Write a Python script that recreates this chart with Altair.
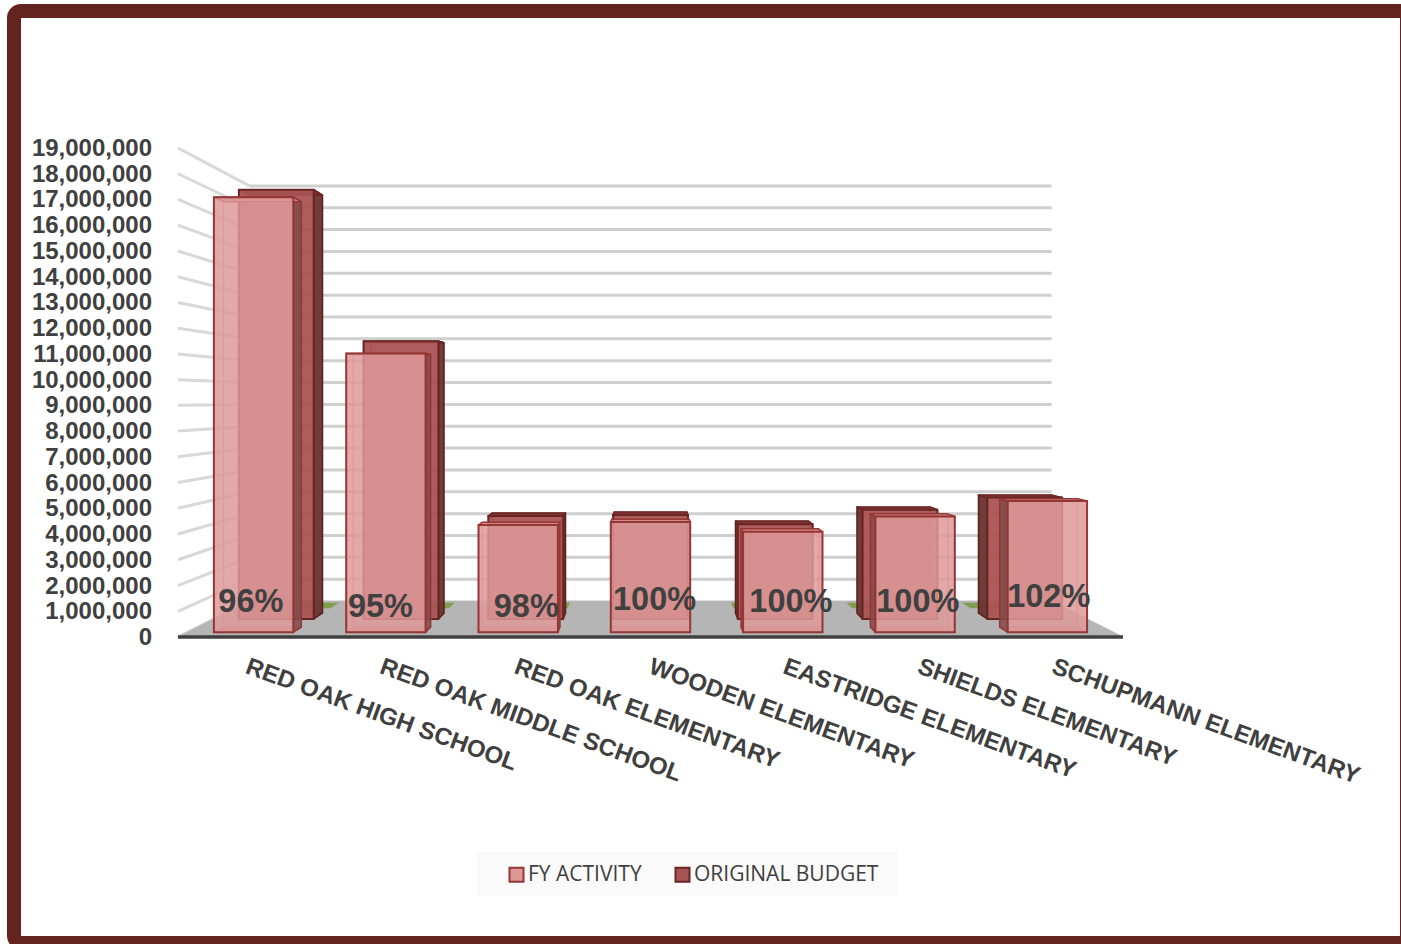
import altair as alt
import pandas as pd

# Spending by campus, FY activity against original budget
schools = ["RED OAK HIGH SCHOOL", "RED OAK MIDDLE SCHOOL", "RED OAK ELEMENTARY",
           "WOODEN ELEMENTARY", "EASTRIDGE ELEMENTARY", "SHIELDS ELEMENTARY",
           "SCHUPMANN ELEMENTARY"]
fy_activity = [17250000, 11050000, 4250000, 4370000, 3980000, 4590000, 5200000]
original_budget = [18050000, 11680000, 4330000, 4370000, 3980000, 4590000, 5100000]
hidden_series = [0, 0, 0, 0, 0, 0, 0]
tick_values = list(range(0, 20000000, 1000000))

# Perspective of the 3D box: every depth pulls points toward one vanishing point
VANISH_SLOT, VANISH_VALUE = 3.5, 9250000
HALF_BAR = 0.300
DEPTH_FRONT = (0.02, 0.042)
DEPTH_BACK = (0.076, 0.10)
DEPTH_GREEN = (0.122, 0.143)
DEPTH_WALL = 0.151
LABEL_SPACING = 0.9955

x_scale = alt.Scale(domain=[0, 7], range=[178, 1123])
y_scale = alt.Scale(domain=[0, 19000000], range=[637, 148])
X = alt.X("x:Q", scale=x_scale, axis=None)
Y = alt.Y("y:Q", scale=y_scale, axis=None)


def project(slot, value, depth):
    return slot + (VANISH_SLOT - slot) * depth, value + (VANISH_VALUE - value) * depth


def faces(values, depths, kind):
    near, far = depths
    rows = []
    for i, v in enumerate(values):
        c = i + 0.5
        lo, hi = c - HALF_BAR, c + HALF_BAR
        visible = hi if c < VANISH_SLOT else lo
        hidden = lo if c < VANISH_SLOT else hi
        shapes = {
            "top": [(lo, v, near), (hi, v, near), (hi, v, far), (lo, v, far)],
            "side": [(visible, 0, near), (visible, v, near), (visible, v, far), (visible, 0, far)],
            "inner": [(hidden, 0, near), (hidden, v, near), (hidden, v, far), (hidden, 0, far)],
            "rear": [(lo, 0, far), (hi, 0, far), (hi, v, far), (lo, v, far)],
            "floor": [(lo, 0, near), (hi, 0, near), (hi, 0, far), (lo, 0, far)],
        }
        pts = shapes[kind]
        if kind == "side" and abs(c - VANISH_SLOT) < 0.01:
            continue
        for k, (s, val, d) in enumerate(pts + pts[:1]):
            px, py = project(s, val, d)
            rows.append({"face": i, "vertex": k, "x": px, "y": py})
    return pd.DataFrame(rows)


def polygons(values, depths, kind, fill, stroke, alpha=1.0, stroke_alpha=1.0, width=1.5):
    return alt.Chart(faces(values, depths, kind)).mark_line(
        fill=fill, stroke=stroke, fillOpacity=alpha, strokeOpacity=stroke_alpha,
        strokeWidth=width, strokeJoin="round",
    ).encode(x=X, y=Y, order="vertex:Q", detail="face:N")


def front_faces(values, depth, series, alpha):
    rows = []
    for i, v in enumerate(values):
        c = i + 0.5
        x0, y0 = project(c - HALF_BAR, 0, depth)
        x1, y1 = project(c + HALF_BAR, v, depth)
        rows.append({"x": x0, "x2": x1, "y": y1, "y2": y0, "series": series})
    return alt.Chart(pd.DataFrame(rows)).mark_rect(fillOpacity=alpha, strokeWidth=2).encode(
        x=X, x2="x2:Q", y=Y, y2="y2:Q",
        fill=alt.Fill("series:N", scale=alt.Scale(domain=["FY ACTIVITY", "ORIGINAL BUDGET"],
                                                  range=["#de9797", "#a95454"]),
                      legend=alt.Legend(
                          title=None, orient="none", legendX=506, legendY=864, direction="horizontal",
                          symbolType="square", symbolSize=196, symbolStrokeWidth=2, symbolOpacity=1,
                          labelFont="Open Sans", labelFontSize=21, labelColor="#404040",
                          labelOffset=1, columnPadding=29, padding=0, labelLimit=300)),
        stroke=alt.Stroke("series:N", scale=alt.Scale(domain=["FY ACTIVITY", "ORIGINAL BUDGET"],
                                                      range=["#963634", "#6a2523"]),
                          legend=None),
    )


# Frame and legend backdrop
frame = alt.Chart(pd.DataFrame({"a": [0]})).mark_rect(
    fillOpacity=0, stroke="#63231f", strokeWidth=14, cornerRadius=7
).encode(x=alt.value(14), x2=alt.value(1407), y=alt.value(11), y2=alt.value(943))
legend_box = alt.Chart(pd.DataFrame({"a": [0]})).mark_rect(fill="#fafafa").encode(
    x=alt.value(477), x2=alt.value(898), y=alt.value(852), y2=alt.value(896))

# Side-wall and back-wall gridlines
wall_rows, side_rows = [], []
for t in tick_values:
    wx0, wy = project(0, t, DEPTH_WALL)
    wx1, _ = project(7, t, DEPTH_WALL)
    if t > 0:
        wall_rows.append({"x": wx0, "x2": wx1, "y": wy})
    side_rows.append({"x": 0, "x2": wx0, "y": t, "y2": wy})
wall_lines = alt.Chart(pd.DataFrame(wall_rows)).mark_rule(stroke="#cfcfcf", strokeWidth=3).encode(
    x=X, x2="x2:Q", y=Y)
side_lines = alt.Chart(pd.DataFrame(side_rows)).mark_rule(stroke="#d8d8d8", strokeWidth=3).encode(
    x=X, x2="x2:Q", y=Y, y2="y2:Q")

# Value labels sit just left of the side wall, one per gridline
tick_df = pd.DataFrame({"x": [0] * len(tick_values), "y": tick_values,
                        "label": [f"{t:,}" for t in tick_values]})
tick_labels = alt.Chart(tick_df).mark_text(
    align="right", baseline="middle", dx=-26, dy=1, font="Liberation Sans", fontWeight="bold",
    fontSize=24, color="#404040",
).encode(x=X, y=Y, text="label:N")

# Floor and front axis line
fl = []
for k, (s, d) in enumerate([(0, 0), (7, 0), (7, DEPTH_WALL), (0, DEPTH_WALL), (0, 0)]):
    px, py = project(s, 0, d)
    fl.append({"face": 0, "vertex": k, "x": px, "y": py})
floor = alt.Chart(pd.DataFrame(fl)).mark_line(fill="#b5b5b5", stroke="#b5b5b5", strokeWidth=1).encode(
    x=X, y=Y, order="vertex:Q", detail="face:N")
base_line = alt.Chart(pd.DataFrame({"x": [0], "x2": [7], "y": [0]})).mark_rule(
    stroke="#404040", strokeWidth=3.5).encode(x=X, x2="x2:Q", y=Y)

green = polygons(hidden_series, DEPTH_GREEN, "top", "#7f9f4f", "#7f9f4f", width=0.5)

# Rear row: original budget
back_layers = [
    polygons(original_budget, DEPTH_BACK, "inner", "#8f4a4a", "#6a2523", 0.5, 0.5),
    polygons(original_budget, DEPTH_BACK, "rear", "#a95454", "#7a3534", 0.4, 0.4),
    polygons(original_budget, DEPTH_BACK, "side", "#6a3634", "#5c1f1d", 0.95, 1.0),
    polygons(original_budget, DEPTH_BACK, "top", "#7e2f2d", "#6a2523", 0.95, 1.0),
    front_faces(original_budget, DEPTH_BACK[0], "ORIGINAL BUDGET", 0.92),
]

# Front row: FY activity, translucent so the rear row shows through
front_layers = [
    polygons(fy_activity, DEPTH_FRONT, "floor", "#d98f8f", "#b56a6a", 0.5, 0.5),
    polygons(fy_activity, DEPTH_FRONT, "rear", "#ffffff", "#c47a7a", 0.08, 0.45, 1),
    polygons(fy_activity, DEPTH_FRONT, "inner", "#ffffff", "#c47a7a", 0.16, 0.5, 1),
    polygons(fy_activity, DEPTH_FRONT, "side", "#7f4a4a", "#963634", 0.85, 1.0),
    polygons(fy_activity, DEPTH_FRONT, "top", "#d58c8c", "#963634", 0.9, 1.0),
    front_faces(fy_activity, DEPTH_FRONT[0], "FY ACTIVITY", 0.84),
]

# Category labels start at each slot centre and fall away at an angle
cat_df = pd.DataFrame({"x": [i * LABEL_SPACING + 0.5 for i in range(len(schools))],
                       "y": [0] * len(schools), "label": schools})
cat_labels = alt.Chart(cat_df).mark_text(
    angle=20, align="left", baseline="alphabetic", dx=11, dy=34, font="Liberation Sans",
    fontWeight="bold", fontSize=24, color="#404040",
).encode(x=X, y=Y, text="label:N")

# Percent of budget used, placed near the foot of each bar
nudge_slot = [0.04, -0.00, 0.08, 0.03, 0.04, -0.02, -0.05]
nudge_value = [1370000, 1150000, 1150000, 1420000, 1370000, 1370000, 1570000]
pct_df = pd.DataFrame({
    "x": [i + 0.5 + n for i, n in enumerate(nudge_slot)],
    "y": nudge_value,
    "label": [f"{round(a / b * 100)}%" for a, b in zip(fy_activity, original_budget)],
})
pct_labels = alt.Chart(pct_df).mark_text(
    font="Liberation Sans", fontWeight="bold", fontSize=32.5, color="#404040",
    align="center", baseline="middle",
).encode(x=X, y=Y, text="label:N")

chart = alt.layer(
    legend_box, side_lines, wall_lines, floor, green, base_line,
    *back_layers, *front_layers, tick_labels, cat_labels, pct_labels, frame,
).properties(
    width=1401, height=944, padding=0, background="white",
    autosize=alt.AutoSizeParams(type="none"),
).configure_view(stroke=None)

chart.save("out.html", embed_options={"renderer": "svg", "actions": False})
